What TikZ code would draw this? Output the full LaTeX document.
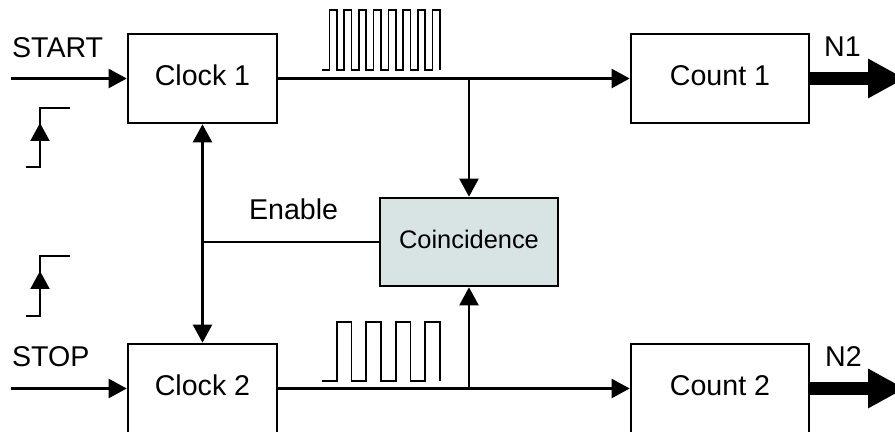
\documentclass[tikz,border=0pt]{standalone}
\usepackage{fontspec}
\setmainfont{Liberation Sans}
\usepackage{tikz}
\usetikzlibrary{arrows.meta}
\usetikzlibrary{positioning}
\definecolor{coinfill}{RGB}{216,228,228}

\begin{document}
\begin{tikzpicture}[x=0.5pt, y=-0.5pt, line width=1.1pt,
		>={Triangle[length=9pt,width=9.5pt]},
		font=\fontsize{14.3pt}{16pt}\selectfont]
		\tikzstyle{block}=[draw, line width=1.3pt, minimum width=74.5pt, minimum height=44.5pt, inner sep=0pt, text depth=3pt]
		\tikzstyle{txt}=[anchor=base west, inner sep=0pt]
		\tikzstyle{pulse}=[line width=0.8pt]
		\tikzstyle{fat}=[line width=6.5pt, -{Triangle[length=18.5pt,width=18.5pt]}]
		
		\useasboundingbox (0,0) rectangle (895,432);
		
		\node[block]                     (clk1) at (202.5, 78.5) {Clock 1};
		\node[block]                     (clk2) at (202.5,388.5) {Clock 2};
		\node[block, minimum width=89pt] (cnt1) at (720, 78.5)   {Count 1};
		\node[block, minimum width=89pt] (cnt2) at (720,388.5)   {Count 2};
		\node[block, minimum width=89pt, minimum height=44pt, fill=coinfill,
		      font=\fontsize{12.7pt}{14pt}\selectfont] (coin) at (469,242) {Coincidence};
		
		\node[txt] (tstart) at (11, 58)  {START};
		\node[txt] (tstop)  at (11,367)  {STOP};
		\node[txt] (tenab)  at (248,220) {Enable};
		\node[txt] (tn1)    at (823, 57) {N1};
		\node[txt] (tn2)    at (824,367) {N2};
		
		\coordinate (start) at (11, 78.5);
		\coordinate (stop)  at (11,388.5);
		\coordinate (j1)    at (clk1.east -| coin.north);
		\coordinate (j2)    at (clk2.east -| coin.south);
		\coordinate (je)    at (clk1.south |- coin.west);
		\coordinate (n1)    at (905, 78.5);
		\coordinate (n2)    at (905,388.5);
		
		\path[->]
		(start) edge        (clk1)
		(clk1)  edge        (cnt1)
		(j1)    edge        (coin)
		(clk1)  edge [<->]  (clk2)
		(je)    edge [-]    (coin)
		(stop)  edge        (clk2)
		(clk2)  edge        (cnt2)
		(j2)    edge        (coin)
		;
		\path[fat] (cnt1) edge (n1) (cnt2) edge (n2);
		
		% step inputs
		\draw (26,167) -- (40,167) -- (40,108) -- (70,108);
		\draw[->] (40,160) -- (40,123);
		\draw (26,316) -- (40,316) -- (40,256) -- (70,256);
		\draw[->] (40,305) -- (40,271);
		
		% pulse trains
		\draw[pulse] (322,70) \foreach \k in {1,...,8} { -- ++(7.375,0) -- ++(0,-60) -- ++(7.375,0) -- ++(0,60) };
		\draw[pulse] (322,381) \foreach \k in {1,...,4} { -- ++(14.75,0) -- ++(0,-59) -- ++(14.75,0) -- ++(0,59) };
\end{tikzpicture}
\end{document}
